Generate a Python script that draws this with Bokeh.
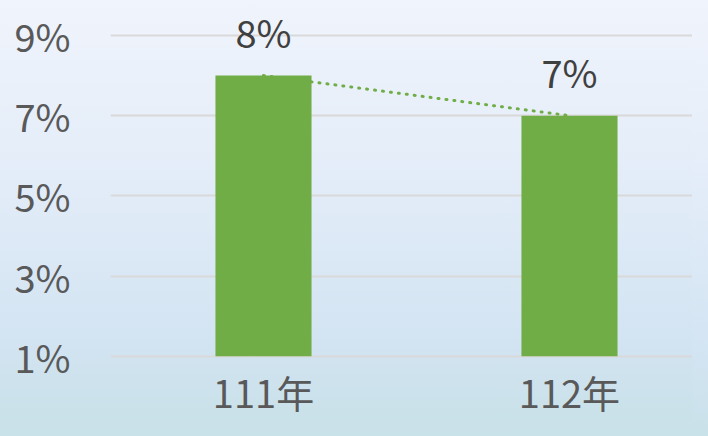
from bokeh.plotting import figure
from bokeh.models import Range1d, FixedTicker, ColumnDataSource, LabelSet, GlobalInlineStyleSheet
from bokeh.core.properties import value
from bokeh.embed import file_html
from bokeh.resources import INLINE

categories = ["111年", "112年"]
values = [8, 7]
value_labels = ["8%", "7%"]
y_ticks = [1, 3, 5, 7, 9]
y_tick_labels = {1: "1%", 3: "3%", 5: "5%", 7: "7%", 9: "9%"}
y_min, y_max = 1, 9

FONT = "Noto Sans CJK TC"
GREEN = "#70ad47"
BG = "linear-gradient(to bottom, #f0f4fc 0%, #e2ecf8 45%, #d3e4f2 80%, #c9e1e9 100%)"

idx = list(range(len(categories)))
src = ColumnDataSource(dict(x=idx, cat=categories, val=values, lab=value_labels,
                            base=[y_min] * len(categories)))

# view extents (layout only): room above 9% for value labels, below 1% for category labels
p = figure(width=692, height=420,
           x_range=Range1d(-0.5, 1.402), y_range=Range1d(-0.6, 9.87),
           output_backend="svg", toolbar_location=None,
           min_border_left=110, min_border_right=0, min_border_top=0, min_border_bottom=0)

p.background_fill_alpha = 0
p.border_fill_alpha = 0
p.outline_line_color = None
p.styles = {"background": BG}
p.stylesheets = [GlobalInlineStyleSheet(css="html, body { background: %s; }" % BG)]

p.vbar(x="x", top="val", bottom="base", width=0.314, source=src, fill_color=GREEN, line_color=None)
p.line(x="x", y="val", source=src, line_color=GREEN, line_width=3, line_dash="1 7", line_cap="round")

labels = LabelSet(x="x", y="val", text="lab", source=src, text_align="center",
                  text_baseline="alphabetic", y_offset=28, text_font=value(FONT),
                  text_font_size=value("38px"), text_color=value("#404040"))
p.add_layout(labels)

cat_labels = LabelSet(x="x", y="base", text="cat", source=src, text_align="center",
                      text_baseline="alphabetic", y_offset=-52, text_font=value(FONT),
                      text_font_size=value("38px"), text_color=value("#595959"))
p.add_layout(cat_labels)

p.xgrid.grid_line_color = None
p.ygrid.ticker = FixedTicker(ticks=y_ticks)
p.ygrid.grid_line_color = "#d9d9d9"
p.ygrid.grid_line_width = 2
p.yaxis.ticker = FixedTicker(ticks=y_ticks)
p.yaxis.major_label_overrides = y_tick_labels
p.yaxis.axis_line_color = None
p.yaxis.major_tick_line_color = None
p.yaxis.minor_tick_line_color = None
p.yaxis.major_label_text_font = FONT
p.yaxis.major_label_text_font_size = "38px"
p.yaxis.major_label_text_color = "#595959"
p.yaxis.major_label_standoff = 34

p.xaxis.visible = False

open("out.html", "w").write(file_html(p, INLINE))
